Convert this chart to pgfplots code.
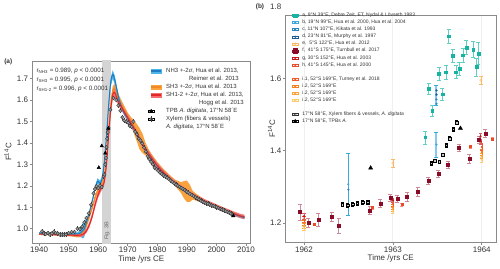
\documentclass[border=0pt]{standalone}
\usepackage{fontspec}
\setmainfont{Liberation Sans}
\usepackage{pgfplots}
\pgfplotsset{compat=1.18}
\usepackage{pgfplotstable}
\usepackage{calc}

\definecolor{axgray}{HTML}{8A8A8A}
\definecolor{txt}{HTML}{333333}
\definecolor{nhband}{HTML}{4FB4E8}
\definecolor{nhline}{HTML}{1E7CC2}
\definecolor{shband}{HTML}{F9A23E}
\definecolor{shline}{HTML}{F08A24}
\definecolor{stband}{HTML}{F36D6A}
\definecolor{stline}{HTML}{E2262B}
\definecolor{xyfill}{HTML}{A0A0A0}
\definecolor{xyedge}{HTML}{3C3C3C}
\definecolor{figband}{HTML}{D4D4D4}
\definecolor{cA}{HTML}{16B2A2}
\definecolor{cAerr}{HTML}{5ECFC2}
\definecolor{cB}{HTML}{3BA9E0}
\definecolor{cBerr}{HTML}{86C9EE}
\definecolor{cC}{HTML}{2B86C6}
\definecolor{cD}{HTML}{1D5A98}
\definecolor{cE}{HTML}{FDB863}
\definecolor{cF}{HTML}{8A0B25}
\definecolor{cFerr}{HTML}{CC8A98}
\definecolor{cG}{HTML}{C8161D}
\definecolor{cH}{HTML}{EA4A2A}
\definecolor{cI}{HTML}{F05A2A}
\definecolor{cJ}{HTML}{F5801F}
\definecolor{cK}{HTML}{FBA53B}
\definecolor{cL}{HTML}{FDCB6E}

\pgfplotsset{
  myaxis/.style={
    scale only axis,
    axis line style={axgray, line width=0.7pt},
    tick style={axgray, line width=0.6pt},
    tick align=outside,
    major tick length=2.5pt,
    xtick pos=bottom, ytick pos=left,
    tick label style={font=\fontsize{8}{9.6}\selectfont, text=txt, inner sep=1.3pt},
    label style={font=\fontsize{8}{9.6}\selectfont, text=txt},
    /pgf/number format/assume math mode=true,
    /pgf/number format/1000 sep={},
  },
}

% ---------- panel (a) curves: x, centre, half-width (2 sigma), side (+1 upper edge, -1 lower edge)
\pgfplotstableread{
x c e s
1940 0.980 0.004 1
1944 0.978 0.004 1
1948 0.976 0.004 1
1951 0.975 0.005 1
1953 0.976 0.007 1
1954 0.980 0.015 1
1954.7 0.990 0.035 1
1955.3 1.000 0.040 1
1956 1.030 0.015 1
1957 1.075 0.010 1
1958 1.130 0.010 1
1959 1.190 0.012 1
1959.8 1.222 0.014 1
1960.6 1.212 0.012 1
1961.3 1.232 0.012 1
1962 1.300 0.014 1
1962.8 1.430 0.016 1
1963.5 1.570 0.018 1
1964.2 1.680 0.020 1
1964.9 1.720 0.020 1
1965.6 1.695 0.020 1
1966.3 1.650 0.016 1
1967 1.605 0.014 1
1968 1.565 0.012 1
1969 1.535 0.012 1
1970 1.515 0.012 1
1971 1.490 0.012 1
1972 1.468 0.012 1
1973 1.442 0.012 1
1974 1.415 0.012 1
1975 1.392 0.010 1
1976 1.370 0.010 1
1977 1.350 0.010 1
1978 1.330 0.010 1
1980 1.292 0.010 1
1982 1.262 0.010 1
1984 1.236 0.009 1
1986 1.212 0.008 1
1988 1.190 0.008 1
1990 1.172 0.008 1
1992 1.155 0.008 1
1994 1.140 0.008 1
1996 1.126 0.008 1
1998 1.114 0.008 1
2000 1.102 0.008 1
2002 1.090 0.008 1
2004 1.079 0.008 1
2006 1.068 0.008 1
2008 1.058 0.008 1
2009.5 1.052 0.008 1
2009.5 1.052 0.008 -1
2008 1.058 0.008 -1
2006 1.068 0.008 -1
2004 1.079 0.008 -1
2002 1.090 0.008 -1
2000 1.102 0.008 -1
1998 1.114 0.008 -1
1996 1.126 0.008 -1
1994 1.140 0.008 -1
1992 1.155 0.008 -1
1990 1.172 0.008 -1
1988 1.190 0.008 -1
1986 1.212 0.008 -1
1984 1.236 0.009 -1
1982 1.262 0.010 -1
1980 1.292 0.010 -1
1978 1.330 0.010 -1
1977 1.350 0.010 -1
1976 1.370 0.010 -1
1975 1.392 0.010 -1
1974 1.415 0.012 -1
1973 1.442 0.012 -1
1972 1.468 0.012 -1
1971 1.490 0.012 -1
1970 1.515 0.012 -1
1969 1.535 0.012 -1
1968 1.565 0.012 -1
1967 1.605 0.014 -1
1966.3 1.650 0.016 -1
1965.6 1.695 0.020 -1
1964.9 1.720 0.020 -1
1964.2 1.680 0.020 -1
1963.5 1.570 0.018 -1
1962.8 1.430 0.016 -1
1962 1.300 0.014 -1
1961.3 1.232 0.012 -1
1960.6 1.212 0.012 -1
1959.8 1.222 0.014 -1
1959 1.190 0.012 -1
1958 1.130 0.010 -1
1957 1.075 0.010 -1
1956 1.030 0.015 -1
1955.3 1.000 0.040 -1
1954.7 0.990 0.035 -1
1954 0.980 0.015 -1
1953 0.976 0.007 -1
1951 0.975 0.005 -1
1948 0.976 0.004 -1
1944 0.978 0.004 -1
1940 0.980 0.004 -1
}\nhthree

\pgfplotstableread{
x c e s
1940 0.976 0.005 1
1944 0.974 0.005 1
1948 0.972 0.005 1
1951 0.970 0.006 1
1953 0.969 0.010 1
1954 0.972 0.012 1
1955 0.985 0.015 1
1956 1.018 0.015 1
1957 1.058 0.012 1
1958 1.100 0.012 1
1959 1.148 0.012 1
1960 1.182 0.012 1
1961 1.200 0.012 1
1962 1.240 0.015 1
1962.8 1.330 0.018 1
1963.5 1.455 0.020 1
1964.2 1.570 0.022 1
1964.9 1.640 0.025 1
1965.6 1.652 0.025 1
1966.3 1.630 0.022 1
1967 1.605 0.020 1
1968 1.575 0.020 1
1969 1.548 0.020 1
1970 1.522 0.020 1
1971 1.500 0.022 1
1972 1.478 0.030 1
1973 1.450 0.040 1
1974 1.420 0.050 1
1975 1.398 0.045 1
1976 1.372 0.030 1
1977 1.352 0.020 1
1978 1.332 0.018 1
1980 1.294 0.018 1
1982 1.264 0.016 1
1984 1.238 0.015 1
1986 1.214 0.015 1
1988 1.192 0.025 1
1989 1.182 0.040 1
1990 1.175 0.050 1
1991 1.165 0.040 1
1992 1.156 0.020 1
1994 1.141 0.014 1
1996 1.127 0.010 1
1998 1.115 0.010 1
2000 1.103 0.010 1
2002 1.091 0.010 1
2004 1.080 0.009 1
2006 1.069 0.009 1
2008 1.059 0.008 1
2009.5 1.054 0.008 1
2009.5 1.054 0.008 -1
2008 1.059 0.008 -1
2006 1.069 0.009 -1
2004 1.080 0.009 -1
2002 1.091 0.010 -1
2000 1.103 0.010 -1
1998 1.115 0.010 -1
1996 1.127 0.010 -1
1994 1.141 0.014 -1
1992 1.156 0.020 -1
1991 1.165 0.040 -1
1990 1.175 0.050 -1
1989 1.182 0.040 -1
1988 1.192 0.025 -1
1986 1.214 0.015 -1
1984 1.238 0.015 -1
1982 1.264 0.016 -1
1980 1.294 0.018 -1
1978 1.332 0.018 -1
1977 1.352 0.020 -1
1976 1.372 0.030 -1
1975 1.398 0.045 -1
1974 1.420 0.050 -1
1973 1.450 0.040 -1
1972 1.478 0.030 -1
1971 1.500 0.022 -1
1970 1.522 0.020 -1
1969 1.548 0.020 -1
1968 1.575 0.020 -1
1967 1.605 0.020 -1
1966.3 1.630 0.022 -1
1965.6 1.652 0.025 -1
1964.9 1.640 0.025 -1
1964.2 1.570 0.022 -1
1963.5 1.455 0.020 -1
1962.8 1.330 0.018 -1
1962 1.240 0.015 -1
1961 1.200 0.012 -1
1960 1.182 0.012 -1
1959 1.148 0.012 -1
1958 1.100 0.012 -1
1957 1.058 0.012 -1
1956 1.018 0.015 -1
1955 0.985 0.015 -1
1954 0.972 0.012 -1
1953 0.969 0.010 -1
1951 0.970 0.006 -1
1948 0.972 0.005 -1
1944 0.974 0.005 -1
1940 0.976 0.005 -1
}\shthree

\pgfplotstableread{
x c e s
1940 0.975 0.004 1
1944 0.973 0.004 1
1948 0.971 0.004 1
1951 0.970 0.005 1
1953 0.969 0.006 1
1954 0.970 0.008 1
1955 0.975 0.010 1
1956 0.990 0.010 1
1957 1.018 0.012 1
1958 1.060 0.014 1
1959 1.115 0.015 1
1960 1.160 0.015 1
1961 1.190 0.015 1
1962 1.215 0.015 1
1962.8 1.300 0.020 1
1963.5 1.430 0.022 1
1964.2 1.550 0.025 1
1964.9 1.625 0.025 1
1965.6 1.635 0.025 1
1966.3 1.610 0.020 1
1967 1.588 0.018 1
1968 1.565 0.016 1
1969 1.542 0.015 1
1970 1.518 0.015 1
1971 1.496 0.015 1
1972 1.472 0.015 1
1973 1.446 0.015 1
1974 1.420 0.015 1
1975 1.395 0.014 1
1976 1.372 0.013 1
1977 1.352 0.012 1
1978 1.332 0.012 1
1980 1.294 0.012 1
1982 1.264 0.011 1
1984 1.238 0.010 1
1986 1.214 0.010 1
1988 1.193 0.010 1
1990 1.174 0.010 1
1992 1.157 0.010 1
1994 1.142 0.010 1
1996 1.128 0.010 1
1998 1.116 0.010 1
2000 1.104 0.010 1
2002 1.092 0.010 1
2004 1.081 0.010 1
2006 1.070 0.010 1
2008 1.060 0.010 1
2009.5 1.055 0.010 1
2009.5 1.055 0.010 -1
2008 1.060 0.010 -1
2006 1.070 0.010 -1
2004 1.081 0.010 -1
2002 1.092 0.010 -1
2000 1.104 0.010 -1
1998 1.116 0.010 -1
1996 1.128 0.010 -1
1994 1.142 0.010 -1
1992 1.157 0.010 -1
1990 1.174 0.010 -1
1988 1.193 0.010 -1
1986 1.214 0.010 -1
1984 1.238 0.010 -1
1982 1.264 0.011 -1
1980 1.294 0.012 -1
1978 1.332 0.012 -1
1977 1.352 0.012 -1
1976 1.372 0.013 -1
1975 1.395 0.014 -1
1974 1.420 0.015 -1
1973 1.446 0.015 -1
1972 1.472 0.015 -1
1971 1.496 0.015 -1
1970 1.518 0.015 -1
1969 1.542 0.015 -1
1968 1.565 0.016 -1
1967 1.588 0.018 -1
1966.3 1.610 0.020 -1
1965.6 1.635 0.025 -1
1964.9 1.625 0.025 -1
1964.2 1.550 0.025 -1
1963.5 1.430 0.022 -1
1962.8 1.300 0.020 -1
1962 1.215 0.015 -1
1961 1.190 0.015 -1
1960 1.160 0.015 -1
1959 1.115 0.015 -1
1958 1.060 0.014 -1
1957 1.018 0.012 -1
1956 0.990 0.010 -1
1955 0.975 0.010 -1
1954 0.970 0.008 -1
1953 0.969 0.006 -1
1951 0.970 0.005 -1
1948 0.971 0.004 -1
1944 0.973 0.004 -1
1940 0.975 0.004 -1
}\shonetwo

\pgfplotstableread{
x y
1941 0.988
1941.6 0.978
1942.2 0.975
1943 0.980
1943.6 0.972
1944.3 0.978
1945 0.986
1945.6 0.980
1946.3 0.978
1947 0.972
1947.7 0.972
1948.4 0.972
1949.1 0.973
1950 0.980
1951 0.985
1952 0.985
1953 1.000
1953.8 0.998
1954.6 1.010
1955.3 1.030
1956 1.050
1956.8 1.072
1957.6 1.112
1958.4 1.165
1958.9 1.185
1959.4 1.198
1960 1.190
1960.6 1.200
1961.2 1.195
1961.8 1.245
1962.1 1.252
1962.4 1.300
1962.6 1.330
1962.8 1.380
1963.0 1.420
1963.2 1.450
1963.5 1.470
1964.1 1.555
1965.2 1.610
1966.1 1.600
1966.8 1.575
1967.5 1.550
1968.2 1.520
1968.8 1.505
1969.5 1.500
1970.1 1.495
1970.7 1.480
1971.3 1.475
1971.9 1.500
1972.5 1.452
1973.1 1.440
1973.7 1.420
1974.3 1.412
1974.9 1.398
1975.5 1.378
1976.1 1.360
1976.7 1.338
1977.3 1.325
1977.9 1.312
1978.5 1.300
1979.1 1.285
1979.7 1.278
1980.3 1.270
1980.9 1.262
1981.5 1.255
1982.1 1.248
1982.7 1.244
1983.3 1.238
1983.9 1.232
1984.5 1.225
1985.1 1.218
1985.7 1.212
1986.3 1.205
1986.9 1.200
1987.5 1.195
1988.1 1.190
1988.7 1.185
1989.3 1.180
1989.9 1.173
1990.5 1.168
1991.1 1.162
1991.7 1.157
1992.3 1.152
1992.9 1.147
1993.5 1.141
1994.1 1.136
1994.7 1.131
1995.3 1.126
1995.9 1.122
1996.5 1.119
1997.1 1.116
1997.7 1.112
1998.3 1.109
1998.9 1.106
1999.5 1.103
2000.1 1.100
2000.7 1.096
2001.3 1.092
2001.9 1.089
2002.5 1.086
2003.1 1.082
2003.7 1.078
2004.3 1.074
2004.9 1.070
2005.5 1.066
}\xylemA

% ---------- panel (b) data: x y err
\pgfplotstableread{
x y e
1963.363 1.437 0.018
1963.401 1.571 0.016
1963.442 1.510 0.016
1963.517 1.614 0.018
1963.558 1.557 0.016
1963.596 1.617 0.020
1963.629 1.717 0.020
1963.674 1.664 0.018
1963.708 1.618 0.018
1963.749 1.628 0.018
1963.787 1.665 0.020
1963.828 1.686 0.020
1963.902 1.680 0.022
1963.940 1.632 0.025
1963.963 1.669 0.030
}\serA

\pgfplotstableread{
x y e
1961.955 1.230 0.022
1962.05 1.200 0.012
1962.16 1.209 0.018
1962.31 1.217 0.012
1962.39 1.192 0.020
1962.74 1.235 0.010
1962.86 1.254 0.012
1962.97 1.270 0.010
1963.05 1.267 0.010
1963.16 1.272 0.012
1963.28 1.286 0.012
1963.40 1.316 0.010
1963.51 1.335 0.010
1963.62 1.360 0.010
1963.745 1.408 0.010
1963.86 1.378 0.012
1963.97 1.431 0.010
1964.04 1.448 0.010
}\serF

\pgfplotstableread{
x y e
1962.43 1.251 0.006
1962.49 1.249 0.006
1962.55 1.252 0.005
1962.60 1.254 0.005
1962.66 1.257 0.005
1962.72 1.257 0.005
1963.43 1.365 0.005
1963.47 1.372 0.005
1963.52 1.369 0.005
1963.56 1.389 0.005
1963.60 1.415 0.006
1963.64 1.434 0.005
1963.68 1.459 0.005
1963.72 1.478 0.006
}\xylemB

\begin{document}
\begin{tikzpicture}
\path[use as bounding box] (0pt,0pt) rectangle (500pt,268pt);

%================ PANEL (a)
\begin{axis}[myaxis,
  at={(32pt,25pt)}, anchor=south west,
  width=218.7pt, height=182pt,
  xmin=1937.6, xmax=2011.6, ymin=0.9333, ymax=1.7826,
  xtick={1940,1950,...,2010},
  ytick={1.0,1.1,...,1.71},
  yticklabel style={/pgf/number format/.cd, fixed, fixed zerofill, precision=1},
  xlabel={Time /yrs CE},
  ylabel={F\textsuperscript{14}C},
  xlabel style={at={(axis description cs:0.5,-0.09)}, anchor=center},
  ylabel style={at={(axis description cs:-0.11,0.5)}, anchor=center},
  legend image code/.code={\path (-3pt,-1pt) rectangle (3pt,1pt); \draw[#1] plot coordinates {(0pt,0pt)};},
  legend style={at={(axis description cs:0.5304,0.967)}, anchor=north west,
    draw=none, fill=none, inner sep=0pt, outer sep=0pt, row sep=0pt, column sep=4.5pt,
    font=\fontsize{6}{8}\selectfont, text=txt,
    nodes={inner sep=0pt, outer sep=0pt, text height=5.3pt, text depth=2.7pt}},
  legend cell align=left,
]
\addplot[forget plot, draw=none, fill=figband] coordinates {(1961.4,0.9) (1964.5,0.9) (1964.5,1.8) (1961.4,1.8)} -- cycle;

\addplot[forget plot, draw=none, fill=shband] table[x=x, y expr=\thisrow{c}+\thisrow{s}*\thisrow{e}] {\shthree} -- cycle;
\addplot[forget plot, draw=none, fill=nhband] table[x=x, y expr=\thisrow{c}+\thisrow{s}*\thisrow{e}] {\nhthree} -- cycle;
\addplot[forget plot, draw=none, fill=stband, fill opacity=0.9] table[x=x, y expr=\thisrow{c}+\thisrow{s}*\thisrow{e}] {\shonetwo} -- cycle;

\addplot[forget plot, shline, line width=1pt, smooth, skip coords between index={50}{100}] table[x=x, y=c] {\shthree};
\addplot[forget plot, nhline, line width=1pt, smooth, skip coords between index={50}{100}] table[x=x, y=c] {\nhthree};
\addplot[forget plot, stline, line width=1pt, smooth, skip coords between index={48}{96}] table[x=x, y=c] {\shonetwo};

\addplot[forget plot, only marks, mark=*, mark size=1.7pt,
  mark options={fill=xyfill, draw=xyedge, line width=0.45pt},
  error bars/.cd, y dir=both, y fixed=0.011, error mark=none,
  error bar style={xyedge, line width=0.45pt}] table[x=x, y=y] {\xylemA};

\addplot[forget plot, only marks, mark=triangle*, mark size=2pt, black]
  coordinates {(1960.2,1.285) (1961.2,1.386) (1962.4,1.353) (1963.4,1.468) (2005.7,1.060)};

% legend
\addlegendimage{legend image code/.code={\fill[nhband] (0pt,-2.3pt) rectangle (10pt,2.3pt); \draw[nhline, line width=1.1pt] (0pt,0pt)--(10pt,0pt);}}
\addlegendentry{NH3 +-2\textit{σ}, Hua et al. 2013,}
\addlegendimage{empty legend}
\addlegendentry{\makebox[\widthof{NH3 +-2\textit{σ}, Hua et al. 2013,}][r]{Reimer et al. 2013}}
\addlegendimage{legend image code/.code={\fill[shband] (0pt,-2.3pt) rectangle (10pt,2.3pt); \draw[shline, line width=1.1pt] (0pt,0pt)--(10pt,0pt);}}
\addlegendentry{SH3 +-2\textit{σ}, Hua et al. 2013}
\addlegendimage{legend image code/.code={\fill[stband] (0pt,-2.3pt) rectangle (10pt,2.3pt); \draw[stline, line width=1.1pt] (0pt,0pt)--(10pt,0pt);}}
\addlegendentry{SH1-2 +-2\textit{σ}, Hua et al. 2013,}
\addlegendimage{empty legend}
\addlegendentry{\makebox[\widthof{SH1-2 +-2\textit{σ}, Hua et al. 2013,}][r]{Hogg et al. 2013}}
\addlegendimage{only marks, mark=triangle*, mark size=1.8pt, black}
\addlegendentry{TPB \textit{A. digitata}, 17°N 58´E}
\addlegendimage{legend image code/.code={\path (-3pt,-1pt) rectangle (3pt,1pt); \draw[xyedge, line width=0.45pt] (0pt,-2.6pt)--(0pt,2.6pt); \draw[fill=xyfill, draw=xyedge, line width=0.45pt] (0pt,0pt) circle (1.6pt); \draw[xyedge, line width=0.45pt] (0pt,-1.6pt)--(0pt,1.6pt);}}
\addlegendentry{Xylem (fibers \& vessels)}
\addlegendimage{empty legend}
\addlegendentry{\textit{A. digitata}, 17°N 58´E}

\node[anchor=west, font=\fontsize{6.3}{7}\selectfont, text=txt] at (axis description cs:0.005,0.9467) {r\textsubscript{NH3} = 0.989, \textit{p} < 0.0001};
\node[anchor=west, font=\fontsize{6.3}{7}\selectfont, text=txt] at (axis description cs:0.005,0.8956) {r\textsubscript{SH3} = 0.995, \textit{p} < 0.0001};
\node[anchor=west, font=\fontsize{6.3}{7}\selectfont, text=txt] at (axis description cs:0.005,0.8445) {r\textsubscript{SH1-2} = 0.996, \textit{p} < 0.0001};
\node[rotate=90, font=\fontsize{5.5}{6}\selectfont, text=black!60] at (axis cs:1962.95,0.99) {Fig. 3B};
\end{axis}

%================ PANEL (b)
\begin{axis}[myaxis,
  at={(285.3pt,25.3pt)}, anchor=south west,
  width=210.7pt, height=227.7pt,
  xmin=1961.79, xmax=1964.16, ymin=1.145, ymax=1.776,
  clip=false,
  xtick={1962,1963,1964},
  ytick={1.2,1.4,1.6},
  yticklabel style={/pgf/number format/.cd, fixed, fixed zerofill, precision=1},
  xmajorgrids, major grid style={gray!12, line width=0.8pt},
  xlabel={Time /yrs CE},
  ylabel={F\textsuperscript{14}C},
  xlabel style={at={(axis description cs:0.5,-0.07)}, anchor=center},
  ylabel style={at={(axis description cs:-0.065,0.5)}, anchor=center},
  legend image code/.code={\path (-3pt,-1pt) rectangle (3pt,1pt); \draw[#1] plot coordinates {(0pt,0pt)};},
  legend style={at={(axis description cs:0.0318,1.0132)}, anchor=north west,
    draw=none, fill=none, inner sep=0pt, outer sep=0pt, row sep=0pt, column sep=4pt,
    font=\fontsize{5}{7.07}\selectfont, text=txt,
    nodes={inner sep=0pt, outer sep=0pt, text height=4.6pt, text depth=2.47pt}},
  legend cell align=left,
]
% series f (dark red squares)
\addplot[forget plot, only marks, mark=square*, mark size=1.5pt, cF,
  error bars/.cd, y dir=both, y explicit,
  error bar style={cFerr, line width=0.6pt},
  error mark options={rotate=90, mark size=2pt, cFerr, line width=0.6pt}]
  table[x=x, y=y, y error=e] {\serF};
% series h
\addplot[forget plot, only marks, mark=square*, mark size=1pt, cH,
  error bars/.cd, y dir=both, y explicit,
  error bar style={cH!60, line width=0.5pt},
  error mark options={rotate=90, mark size=1.6pt, cH!60, line width=0.5pt}]
  coordinates {(1962.12,1.196) +- (0,0.004) (1962.77,1.242) +- (0,0.004) (1963.10,1.251) +- (0,0.004) (1963.87,1.412) +- (0,0.004) (1964.12,1.433) +- (0,0.004)};
% series i (1962, 1963, 1964 clusters)
\addplot[forget plot, only marks, mark=*, mark size=0.9pt, cL,
  error bars/.cd, y dir=both, y explicit, error bar style={cL, line width=0.5pt},
  error mark options={rotate=90, mark size=1.6pt, cL, line width=0.5pt}]
  coordinates {(1962.0,1.185) +- (0,0.005) (1963.0,1.232) +- (0,0.005) (1964.0,1.375) +- (0,0.006)};
\addplot[forget plot, only marks, mark=*, mark size=0.9pt, cK,
  error bars/.cd, y dir=both, y explicit, error bar style={cK, line width=0.5pt},
  error mark options={rotate=90, mark size=1.6pt, cK, line width=0.5pt}]
  coordinates {(1962.0,1.192) +- (0,0.006) (1963.0,1.238) +- (0,0.006) (1964.0,1.386) +- (0,0.006)};
\addplot[forget plot, only marks, mark=*, mark size=0.9pt, cJ,
  error bars/.cd, y dir=both, y explicit, error bar style={cJ, line width=0.5pt},
  error mark options={rotate=90, mark size=1.6pt, cJ, line width=0.5pt}]
  coordinates {(1962.0,1.200) +- (0,0.006) (1963.0,1.245) +- (0,0.006) (1964.0,1.396) +- (0,0.008)};
\addplot[forget plot, only marks, mark=*, mark size=0.9pt, cI,
  error bars/.cd, y dir=both, y explicit, error bar style={cI, line width=0.5pt},
  error mark options={rotate=90, mark size=1.6pt, cI, line width=0.5pt}]
  coordinates {(1962.0,1.210) +- (0,0.008) (1963.0,1.255) +- (0,0.008) (1964.0,1.410) +- (0,0.010)};
% series g
\addplot[forget plot, only marks, mark=*, mark size=0.9pt, cG,
  error bars/.cd, y dir=both, y explicit, error bar style={cG!70, line width=0.5pt},
  error mark options={rotate=90, mark size=1.6pt, cG!70, line width=0.5pt}]
  coordinates {(1962.0,1.218) +- (0,0.008) (1963.0,1.262) +- (0,0.006) (1963.985,1.440) +- (0,0.008) (1963.99,1.425) +- (0,0.006)};
% series e
\addplot[forget plot, only marks, mark=o, mark size=1.1pt, cE,
  error bars/.cd, y dir=both, y explicit, error bar style={cE, line width=0.6pt},
  error mark options={rotate=90, mark size=2pt, cE, line width=0.6pt}]
  coordinates {(1963.0,1.365) +- (0,0.010) (1963.99,1.595) +- (0,0.012)};
% series a (teal)
\addplot[forget plot, only marks, mark=square*, mark size=1.3pt, cA,
  error bars/.cd, y dir=both, y explicit,
  error bar style={cAerr, line width=0.6pt},
  error mark options={rotate=90, mark size=2pt, cAerr, line width=0.6pt}]
  table[x=x, y=y, y error=e] {\serA};
% series b (light blue)
\addplot[forget plot, only marks, mark=*, mark size=0.9pt, cB,
  error bars/.cd, y dir=both, y explicit,
  error bar style={cB, line width=0.6pt},
  error mark options={rotate=90, mark size=2pt, cB, line width=0.6pt}]
  coordinates {(1962.498,1.307) +- (0,0.085)};
\addplot[forget plot, only marks, mark=*, mark size=0.9pt, cB,
  error bars/.cd, y dir=both, y explicit,
  error bar style={cBerr, line width=2pt},
  error mark options={rotate=90, mark size=2pt, cB, line width=0.5pt}]
  coordinates {(1963.49,1.417) +- (0,0.035) (1963.49,1.554) +- (0,0.028)};
% series c, d
\addplot[forget plot, only marks, mark=*, mark size=0.9pt, cC]
  coordinates {(1962.5,1.292) (1963.49,1.542) (1963.49,1.530)};
\addplot[forget plot, only marks, mark=*, mark size=0.9pt, cD]
  coordinates {(1963.49,1.567) (1963.49,1.556)};
% xylem (b)
\addplot[forget plot, only marks, mark=square*, mark size=1.3pt,
  mark options={fill=gray!45, draw=black, line width=0.4pt},
  error bars/.cd, y dir=both, y explicit,
  error bar style={black, line width=0.6pt},
  error mark options={rotate=90, mark size=1.6pt, black, line width=0.6pt}]
  table[x=x, y=y, y error=e] {\xylemB};
% TPB (b)
\addplot[forget plot, only marks, mark=triangle*, mark size=2.4pt, black]
  coordinates {(1962.75,1.352) (1963.76,1.462)};

% legend (b)
\addlegendimage{only marks, mark=square*, mark size=1.8pt, cA}
\addlegendentry{a, 9°N 39°E, Debre Zeit, ET, Nydal \& Lövseth 1983}
\addlegendimage{only marks, mark=*, mark size=0.9pt, cB}
\addlegendentry{b, 19°N 99°E, Hua et al. 2000, Hua et al. 2004}
\addlegendimage{only marks, mark=*, mark size=0.9pt, cC}
\addlegendentry{c, 11°N 107°E, Kikata et al. 1993}
\addlegendimage{only marks, mark=*, mark size=0.9pt, cD}
\addlegendentry{d, 23°N 81°E, Murphy et al. 1997}
\addlegendimage{only marks, mark=o, mark size=1.1pt, cE}
\addlegendentry{e,\ \ 5°S 122°E, Hua et al. 2012}
\addlegendimage{only marks, mark=square*, mark size=2.2pt, cF}
\addlegendentry{f,\ \ 41°S 175°E, Turnbull et al. 2017}
\addlegendimage{only marks, mark=*, mark size=0.9pt, cG}
\addlegendentry{g, 30°S 152°E, Hua et al. 2003}
\addlegendimage{only marks, mark=*, mark size=0.9pt, cH}
\addlegendentry{h, 41°S 145°E, Hua et al. 2000}
\addlegendimage{empty legend}
\addlegendentry{}
\addlegendimage{only marks, mark=*, mark size=0.9pt, cI}
\addlegendentry{i.1, 52°S 169°E, Turney et al. 2018}
\addlegendimage{only marks, mark=*, mark size=0.9pt, cJ}
\addlegendentry{i.2, 52°S 169°E}
\addlegendimage{only marks, mark=*, mark size=0.9pt, cK}
\addlegendentry{i.2, 52°S 169°E}
\addlegendimage{only marks, mark=*, mark size=0.9pt, cL}
\addlegendentry{i.2, 52°S 169°E}
\addlegendimage{empty legend}
\addlegendentry{}
\addlegendimage{only marks, mark=o, mark size=1pt, black!80}
\addlegendentry{17°N 58°E, Xylem fibers \& vessels, \textit{A. digitata}}
\addlegendimage{only marks, mark=triangle*, mark size=2.2pt, black}
\addlegendentry{17°N 58°E, TPBs \textit{A.}}

\node[anchor=east, font=\fontsize{8}{9.6}\selectfont, text=txt, inner sep=0pt, xshift=-3.8pt] at (axis cs:1961.79,1.8) {1.8};
\end{axis}

\node[font=\bfseries\fontsize{6.5}{7}\selectfont, text=txt] at (8.3pt,206.3pt) {(a)};
\node[font=\bfseries\fontsize{6.5}{7}\selectfont, text=txt] at (260pt,261.3pt) {(b)};
\end{tikzpicture}
\end{document}
